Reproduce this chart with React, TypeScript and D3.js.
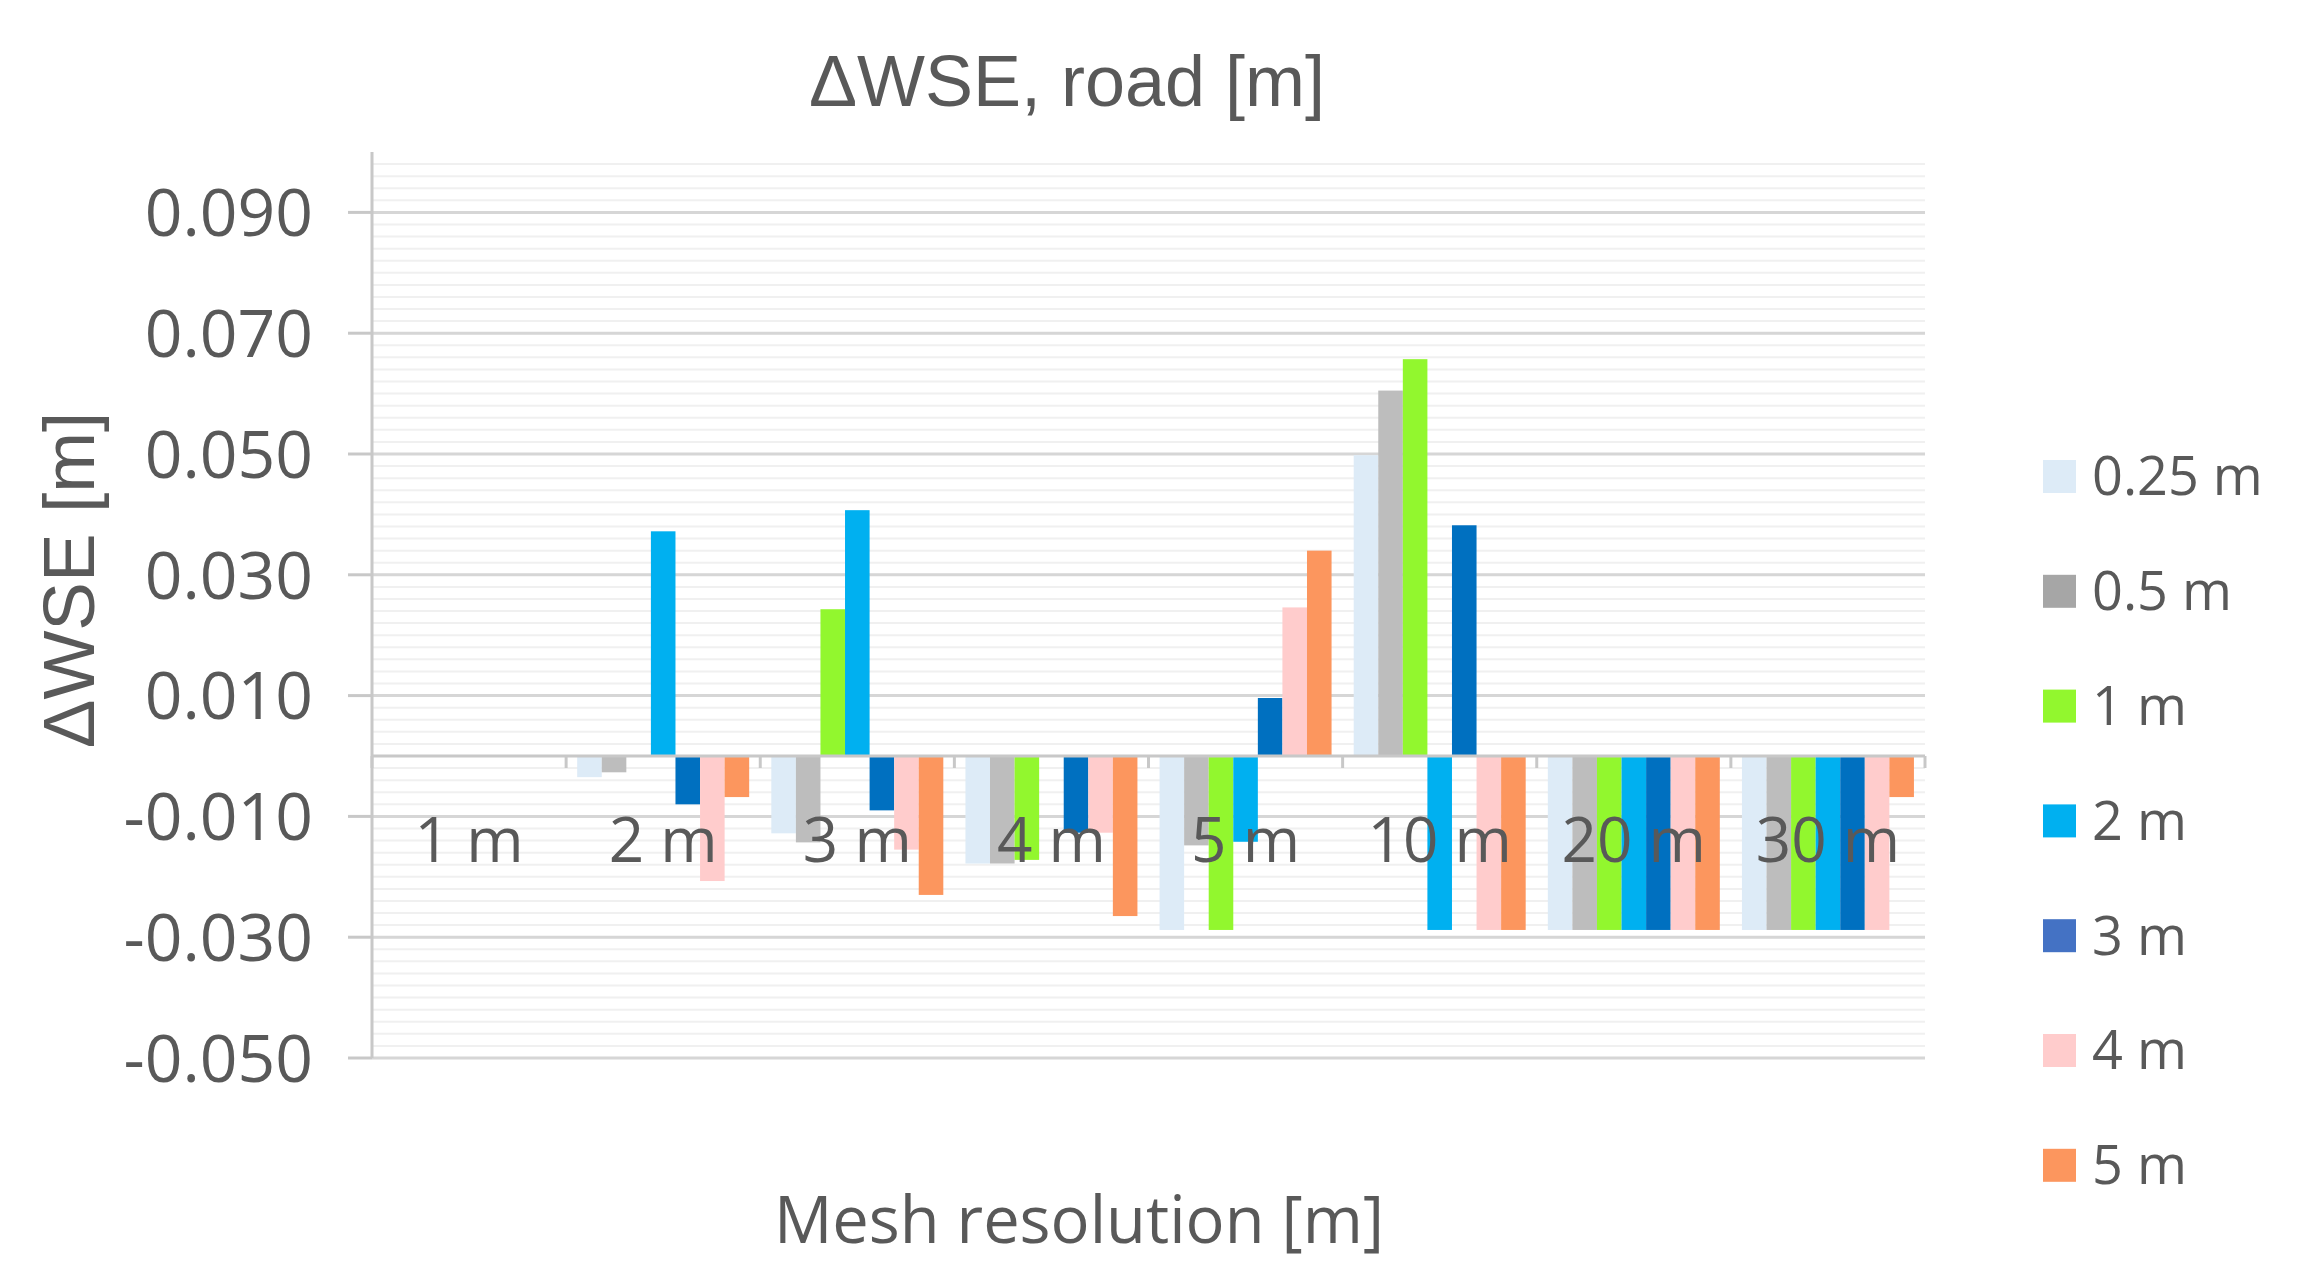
import React from "react";
import * as d3 from "d3";

// mesh resolutions on the x axis
const categories = ["1 m", "2 m", "3 m", "4 m", "5 m", "10 m", "20 m", "30 m"];
// reference resolutions (legend)
const seriesNames = ["0.25 m", "0.5 m", "1 m", "2 m", "3 m", "4 m", "5 m"];

const s025 = [0, -0.0035, -0.0128, -0.0178, -0.0288, 0.0498, -0.0288, -0.0288];
const s05 = [0, -0.0027, -0.0143, -0.0178, -0.0148, 0.0605, -0.0288, -0.0288];
const s1 = [0, 0, 0.0243, -0.0172, -0.0288, 0.0657, -0.0288, -0.0288];
const s2 = [0, 0.0372, 0.0407, 0, -0.0142, -0.0288, -0.0288, -0.0288];
const s3 = [0, -0.008, -0.009, -0.0127, 0.0096, 0.0382, -0.0288, -0.0288];
const s4 = [0, -0.0207, -0.0155, -0.0127, 0.0246, -0.0288, -0.0288, -0.0288];
const s5 = [0, -0.0068, -0.023, -0.0265, 0.034, -0.0288, -0.0288, -0.0068];
const seriesValues = [s025, s05, s1, s2, s3, s4, s5];

const yTicks = [0.09, 0.07, 0.05, 0.03, 0.01, -0.01, -0.03, -0.05];

const barColors = ["#DDEBF7", "#BDBDBD", "#92F72E", "#00B0F0", "#0070C0", "#FFCCCC", "#FC965E"];
const legendColors = ["#DDEBF7", "#A6A6A6", "#92F72E", "#00B0F0", "#4472C4", "#FFCCCC", "#FC965E"];

const W = 2308;
const H = 1280;
const left = 372;
const right = 1925;
const top = 152;
const bottom = 1058;
const textColor = "#595959";
const sans = "'Open Sans', 'Noto Sans', sans-serif";
const arial = "'Liberation Sans', Arial, sans-serif";

export default function App() {
  const y = d3.scaleLinear().domain([-0.05, 0.1]).range([bottom, top]);
  const x0 = d3
    .scaleBand()
    .domain(categories)
    .range([left, right])
    .paddingInner(0.114)
    .paddingOuter(0.057);
  const x1 = d3
    .scaleBand()
    .domain(seriesNames)
    .range([0, x0.bandwidth()]);
  const step = x0.step();

  // minor gridlines every 0.002
  const minor = d3.range(-0.05, 0.0995, 0.002).map((v) => Math.round(v * 1000) / 1000);
  const zero = y(0);

  return (
    <svg
      width={W}
      height={H}
      style={{ position: "absolute", left: 0, top: 0, background: "#fff" }}
    >
      <rect x={0} y={0} width={W} height={H} fill="#fff" />
      <text x={1067} y={106} textAnchor="middle" fontFamily={arial} fontSize={72} fill={textColor}>
        ΔWSE, road [m]
      </text>

      {minor.map((v, i) => (
        <line key={"mn" + i} x1={left} x2={right} y1={y(v)} y2={y(v)} stroke="#F0F0F0" strokeWidth={2} />
      ))}
      {yTicks.map((v) => (
        <line key={"mj" + v} x1={left} x2={right} y1={y(v)} y2={y(v)} stroke="#D6D6D6" strokeWidth={3} />
      ))}
      {yTicks.map((v) => (
        <g key={"yt" + v}>
          <line x1={348} x2={left} y1={y(v)} y2={y(v)} stroke="#C8C8C8" strokeWidth={3} />
          <text
            x={313}
            y={y(v)}
            dy="0.36em"
            textAnchor="end"
            fontFamily={sans}
            fontSize={66}
            fill={textColor}
          >
            {v.toFixed(3)}
          </text>
        </g>
      ))}
      <line x1={left} x2={left} y1={top} y2={bottom} stroke="#C8C8C8" strokeWidth={3} />

      {seriesValues.map((vals, si) => (
        <g key={"s" + si} fill={barColors[si]}>
          {vals.map((v, ci) =>
            v === 0 ? null : (
              <rect
                key={ci}
                x={(x0(categories[ci]) as number) + (x1(seriesNames[si]) as number)}
                y={Math.min(y(v), zero)}
                width={x1.bandwidth()}
                height={Math.abs(y(v) - zero)}
              />
            )
          )}
        </g>
      ))}

      <line x1={left} x2={right} y1={zero} y2={zero} stroke="#C8C8C8" strokeWidth={3} />
      {d3.range(categories.length + 1).map((i) => (
        <line
          key={"xt" + i}
          x1={left + i * step}
          x2={left + i * step}
          y1={zero}
          y2={zero + 12}
          stroke="#C8C8C8"
          strokeWidth={3}
        />
      ))}
      {categories.map((c) => (
        <text
          key={"xl" + c}
          x={(x0(c) as number) + x0.bandwidth() / 2}
          y={862}
          textAnchor="middle"
          fontFamily={sans}
          fontSize={62}
          fill={textColor}
        >
          {c}
        </text>
      ))}

      <text
        transform={`translate(94,580) rotate(-90)`}
        textAnchor="middle"
        fontFamily={arial}
        fontSize={73}
        fill={textColor}
      >
        ΔWSE [m]
      </text>
      <text x={1079} y={1243} textAnchor="middle" fontFamily={sans} fontSize={65} fill={textColor}>
        Mesh resolution [m]
      </text>

      {seriesNames.map((n, i) => {
        const cy = 476 + i * 114.8;
        return (
          <g key={"lg" + n}>
            <rect x={2043} y={cy - 16} width={33} height={33} fill={legendColors[i]} />
            <text x={2092} y={cy} dy="0.36em" fontFamily={sans} fontSize={54} fill={textColor}>
              {n}
            </text>
          </g>
        );
      })}
    </svg>
  );
}
